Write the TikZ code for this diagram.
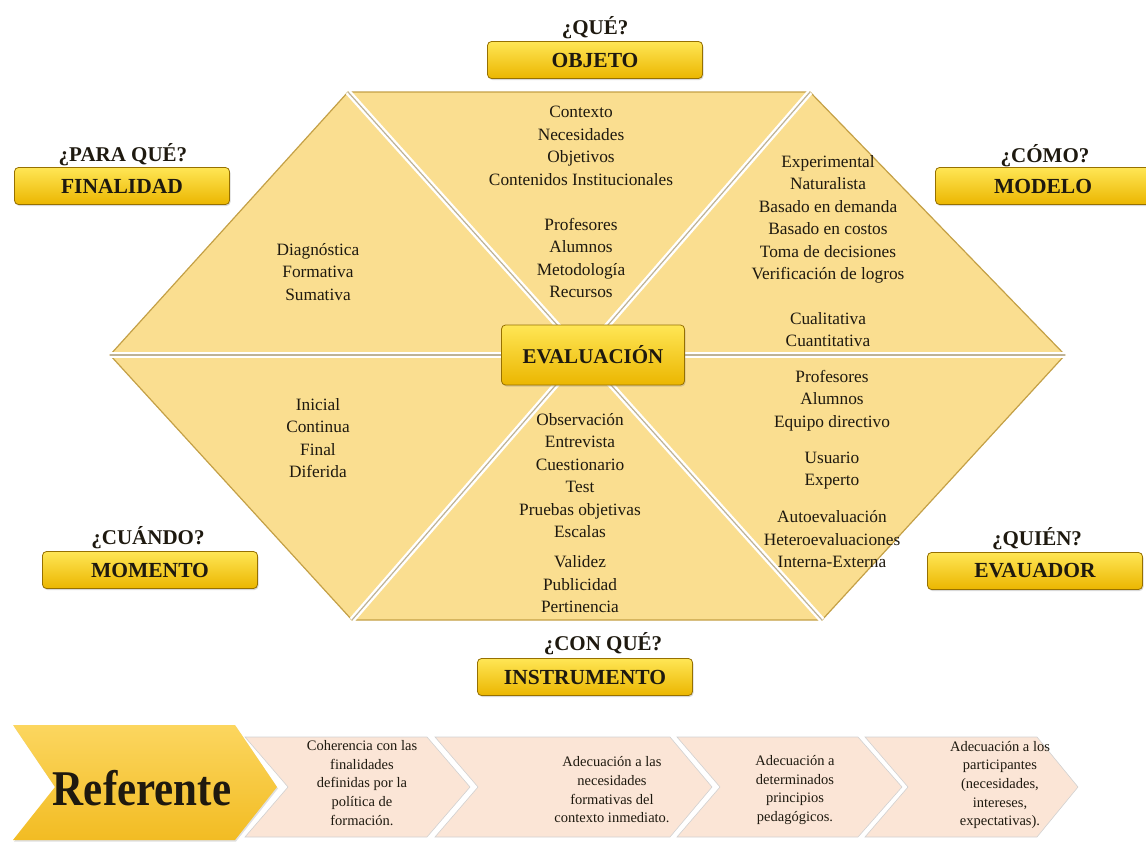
\documentclass[tikz,border=0pt]{standalone}
\usepackage{fontspec}
\setmainfont{Liberation Serif}
\usetikzlibrary{shadows}
\definecolor{trifill}{RGB}{250,222,144}
\definecolor{triedge}{RGB}{196,160,70}
\definecolor{gapline}{RGB}{190,178,150}
\definecolor{btntop}{RGB}{255,230,85}
\definecolor{btnbot}{RGB}{235,182,0}
\definecolor{btnedge}{RGB}{150,112,0}
\definecolor{chevpink}{RGB}{251,229,214}
\definecolor{reftop}{RGB}{252,214,95}
\definecolor{refbot}{RGB}{242,188,35}
\definecolor{txt}{RGB}{30,25,15}

\begin{document}
\begin{tikzpicture}[x=1pt,y=-1pt,
  btn/.style={draw=btnedge, line width=0.8pt, rounded corners=4pt, top color=btntop, bottom color=btnbot,
    minimum width=215pt, minimum height=37pt, font=\fontsize{21.5}{25}\selectfont\bfseries, text=txt,
    drop shadow={opacity=0.3, shadow xshift=1pt, shadow yshift=-1.5pt}},
  ask/.style={font=\fontsize{21}{25}\selectfont\bfseries, text=txt},
  tritext/.style={align=center, font=\fontsize{17.3}{22.5}\selectfont, text=txt},
  chevtext/.style={align=center, font=\fontsize{14.5}{18.7}\selectfont, text=txt},
  chev/.style={fill=chevpink, draw=black!18, line width=0.6pt}]

  \useasboundingbox (0,0) rectangle (1146,841);

  % hexagon
  \coordinate (L)  at (110,355);
  \coordinate (TL) at (348,92);
  \coordinate (TR) at (810,92);
  \coordinate (R)  at (1065,355);
  \coordinate (BR) at (822,620);
  \coordinate (BL) at (352,620);
  \coordinate (C)  at (583,355);

  \filldraw[fill=trifill, draw=triedge, line width=1.2pt, line join=round]
    (L) -- (TL) -- (TR) -- (R) -- (BR) -- (BL) -- cycle;
  \foreach \a/\b in {L/R, TL/BR, TR/BL} {
    \draw[white, line width=6pt] (\a) -- (\b);
    \draw[gapline, line width=1.2pt] (\a) -- (\b);
  }

  % texts in the triangles
  \node[tritext] (tobjeto) at (581,202) {Contexto\\Necesidades\\Objetivos\\Contenidos Institucionales\\[22.5pt]
    Profesores\\Alumnos\\Metodología\\Recursos};
  \node[tritext] (tfinalidad) at (318,272) {Diagnóstica\\Formativa\\Sumativa};
  \node[tritext] (tmodelo) at (828,251) {Experimental\\Naturalista\\Basado en demanda\\Basado en costos\\
    Toma de decisiones\\Verificación de logros\\[22pt]Cualitativa\\Cuantitativa};
  \node[tritext] (tmomento) at (318,438) {Inicial\\Continua\\Final\\Diferida};
  \node[tritext] (tinstrumento) at (580,513) {Observación\\Entrevista\\Cuestionario\\Test\\Pruebas objetivas\\
    Escalas\\[7.5pt]Validez\\Publicidad\\Pertinencia};
  \node[tritext] (tevaluador) at (832,469) {Profesores\\Alumnos\\Equipo directivo\\[13.5pt]Usuario\\Experto\\[14.5pt]
    Autoevaluación\\Heteroevaluaciones\\Interna-Externa};

  % buttons
  \node[btn, minimum width=183pt, minimum height=60pt, font=\fontsize{21}{25}\selectfont\bfseries]
    (evaluacion) at (593,355) {EVALUACIÓN};
  \node[btn] (objeto) at (595,60) {OBJETO};
  \node[ask] (qobjeto) at (595,28) {¿QUÉ?};
  \node[btn] (finalidad) at (122,186) {FINALIDAD};
  \node[ask] (qfinalidad) at (123,155) {¿PARA QUÉ?};
  \node[btn] (modelo) at (1043,186) {MODELO};
  \node[ask] (qmodelo) at (1045,156) {¿CÓMO?};
  \node[btn] (momento) at (150,570) {MOMENTO};
  \node[ask] (qmomento) at (148,538) {¿CUÁNDO?};
  \node[btn] (evaluador) at (1035,571) {EVAUADOR};
  \node[ask] (qevaluador) at (1037,539) {¿QUIÉN?};
  \node[btn] (instrumento) at (585,677) {INSTRUMENTO};
  \node[ask] (qinstrumento) at (603,644) {¿CON QUÉ?};

  % referente and the chevrons
  \draw[chev] (245,737) -- (427,737) -- (470,787) -- (427,837) -- (245,837) -- (288,787) -- cycle;
  \draw[chev] (435,737) -- (670,737) -- (712,787) -- (670,837) -- (435,837) -- (478,787) -- cycle;
  \draw[chev] (677,737) -- (858,737) -- (902,787) -- (858,837) -- (677,837) -- (720,787) -- cycle;
  \draw[chev] (865,737) -- (1037,737) -- (1078,787) -- (1037,837) -- (865,837) -- (908,787) -- cycle;

  \shade[top color=reftop, bottom color=refbot, drop shadow={opacity=0.25, shadow xshift=1pt, shadow yshift=-1.5pt}]
    (13,725) -- (235,725) -- (277,787) -- (235,840) -- (13,840) -- (55,787) -- cycle;
  \node[font=\fontsize{50}{56}\selectfont\bfseries, text=txt] (referente) at (142,788) {\scalebox{0.86}[1]{Referente}};

  \node[chevtext] (coherencia) at (362,783) {Coherencia con las\\finalidades\\definidas por la\\política de\\formación.};
  \node[chevtext] (necesidades) at (612,790) {Adecuación a las\\necesidades\\formativas del\\contexto inmediato.};
  \node[chevtext] (principios) at (795,790) {Adecuación a\\determinados\\principios\\pedagógicos.};
  \node[chevtext] (participantes) at (1000,785) {Adecuación a los\\participantes\\(necesidades,\\intereses,\\expectativas).};

\end{tikzpicture}
\end{document}
